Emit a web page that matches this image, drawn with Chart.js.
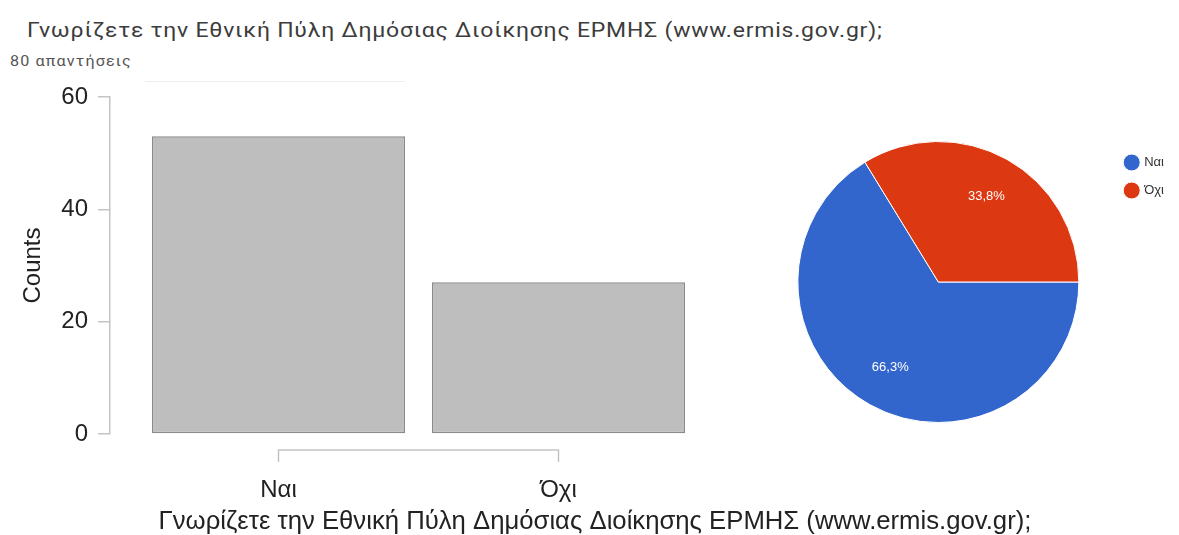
<!DOCTYPE html>
<html>
<head>
<meta charset="utf-8">
<script src="https://cdn.jsdelivr.net/npm/chart.js@4"></script>
<style>
  body { margin: 0; background: #fff; width: 1179px; height: 535px; overflow: hidden; position: relative; }
  #titlos { position: absolute; left: 27px; top: 18px; font: 21px Roboto, sans-serif; letter-spacing: 0.7px; transform: scaleX(1.095); transform-origin: left top; color: #3c3c3c; white-space: nowrap; }
  #apantiseis { position: absolute; left: 10px; top: 53px; font: 14px Roboto, sans-serif; letter-spacing: 1px; transform: scaleX(1.15); transform-origin: left top; color: #555; white-space: nowrap; }
  #grammi { position: absolute; left: 145px; top: 81px; width: 260px; height: 1px; background: #eee; }
  #barCanvasBox { position: absolute; left: 0; top: 0; width: 1179px; height: 535px; }
  #pieCanvasBox { position: absolute; left: 766px; top: 141px; width: 408px; height: 282px; }
</style>
</head>
<body>
<div id="titlos">Γνωρίζετε την Εθνική Πύλη Δημόσιας Διοίκησης ΕΡΜΗΣ (www.ermis.gov.gr);</div>
<div id="apantiseis">80 απαντήσεις</div>
<div id="grammi"></div>
<div id="barCanvasBox"><canvas id="chartBar"></canvas></div>
<div id="pieCanvasBox"><canvas id="chartPie"></canvas></div>
<script>
// dedomena
let katigories = ['Ναι', 'Όχι'];
let plithos = [53, 27];
let yTicks = [0, 20, 40, 60];
let erotisi = 'Γνωρίζετε την Εθνική Πύλη Δημόσιας Διοίκησης ΕΡΜΗΣ (www.ermis.gov.gr);';
let xromataPitas = ['#3366cc', '#dc3912'];

Chart.defaults.animation = false;
Chart.defaults.font.family = '"Liberation Sans", Arial, sans-serif';

// aksonas x se stil R (agkyli kato apo tis mpares)
const aksonasX = {
    id: 'aksonasX',
    afterDraw(chart) {
        const ctx = chart.ctx;
        const sx = chart.scales.x;
        const y0 = chart.chartArea.bottom + 16;
        const a = sx.getPixelForValue(0);
        const b = sx.getPixelForValue(katigories.length - 1);
        ctx.save();
        ctx.strokeStyle = '#c4c4c4';
        ctx.lineWidth = 1.5;
        ctx.beginPath();
        ctx.moveTo(a, y0 + 12);
        ctx.lineTo(a, y0);
        ctx.lineTo(b, y0);
        ctx.lineTo(b, y0 + 12);
        ctx.stroke();
        ctx.restore();
    }
};

var ctxBar = document.getElementById('chartBar').getContext('2d');
var chartBar = new Chart(ctxBar, {
    type: 'bar',
    data: {
        datasets: [{
            label: 'Counts',
            data: plithos.map((v, i) => ({ x: i, y: v })),
            backgroundColor: '#bebebe',
            borderColor: '#8a8a8a',
            borderWidth: 1.5,
            borderSkipped: false,
            barPercentage: 0.9036,
            categoryPercentage: 1
        }]
    },
    options: {
        responsive: true,
        maintainAspectRatio: false,
        layout: { padding: { left: 0, top: 97, right: 99, bottom: 0 } },
        plugins: { legend: { display: false }, tooltip: { enabled: false } },
        scales: {
            x: {
                type: 'linear',
                min: -0.6018,
                max: 2.8625,
                offset: false,
                afterBuildTicks: s => { s.ticks = s.ticks.filter(t => t.value >= 0 && t.value < katigories.length); },
                afterFit: s => { s.height = 101; },
                ticks: {
                    stepSize: 1,
                    includeBounds: false,
                    padding: 34,
                    color: '#222',
                    font: { size: 24 },
                    callback: v => katigories[v]
                },
                grid: { display: false },
                border: { display: false },
                title: {
                    display: true,
                    text: erotisi,
                    color: '#222',
                    font: { size: 25.7, lineHeight: 1 },
                    padding: { top: 0, bottom: 0 }
                }
            },
            y: {
                min: 0,
                max: 60,
                afterBuildTicks: s => { s.ticks = yTicks.map(v => ({ value: v })); },
                afterFit: s => { s.width = 110; },
                ticks: { padding: 10, color: '#222', font: { size: 24 } },
                grid: { drawOnChartArea: false, tickLength: 12, color: '#c4c4c4', lineWidth: 1.5 },
                border: { color: '#c4c4c4', width: 1.5 },
                title: {
                    display: true,
                    text: 'Counts',
                    color: '#222',
                    font: { size: 24 },
                    padding: { top: 19, bottom: 0 }
                }
            }
        }
    },
    plugins: [aksonasX]
});

// pososta mesa stin pita
const pososta = {
    id: 'pososta',
    afterDatasetsDraw(chart) {
        const ctx = chart.ctx;
        const meta = chart.getDatasetMeta(0);
        const synolo = plithos.reduce((a, b) => a + b, 0);
        ctx.save();
        ctx.fillStyle = '#fff';
        ctx.font = '13px "Liberation Sans", Arial, sans-serif';
        ctx.textAlign = 'center';
        ctx.textBaseline = 'middle';
        meta.data.forEach((arc, i) => {
            const p = arc.getProps(['x', 'y', 'startAngle', 'endAngle', 'outerRadius'], true);
            const m = (p.startAngle + p.endAngle) / 2;
            const r = p.outerRadius * 0.7;
            const keimeno = (plithos[i] / synolo * 100).toFixed(1).replace('.', ',') + '%';
            ctx.fillText(keimeno, p.x + Math.cos(m) * r, p.y + Math.sin(m) * r);
        });
        ctx.restore();
    }
};

var ctxPie = document.getElementById('chartPie').getContext('2d');
var chartPie = new Chart(ctxPie, {
    type: 'pie',
    data: {
        labels: katigories,
        datasets: [{
            data: plithos,
            backgroundColor: xromataPitas,
            borderColor: '#fff',
            borderWidth: 1,
            hoverOffset: 0
        }]
    },
    options: {
        responsive: true,
        maintainAspectRatio: false,
        rotation: 90,
        layout: { padding: 0 },
        plugins: {
            legend: {
                position: 'right',
                align: 'start',
                labels: {
                    usePointStyle: true,
                    pointStyle: 'circle',
                    boxWidth: 12,
                    boxHeight: 12,
                    padding: 15,
                    color: '#333',
                    font: { size: 13, family: 'Arial, "Liberation Sans", sans-serif' }
                }
            },
            tooltip: { enabled: false }
        }
    },
    plugins: [pososta]
});
</script>
</body>
</html>
